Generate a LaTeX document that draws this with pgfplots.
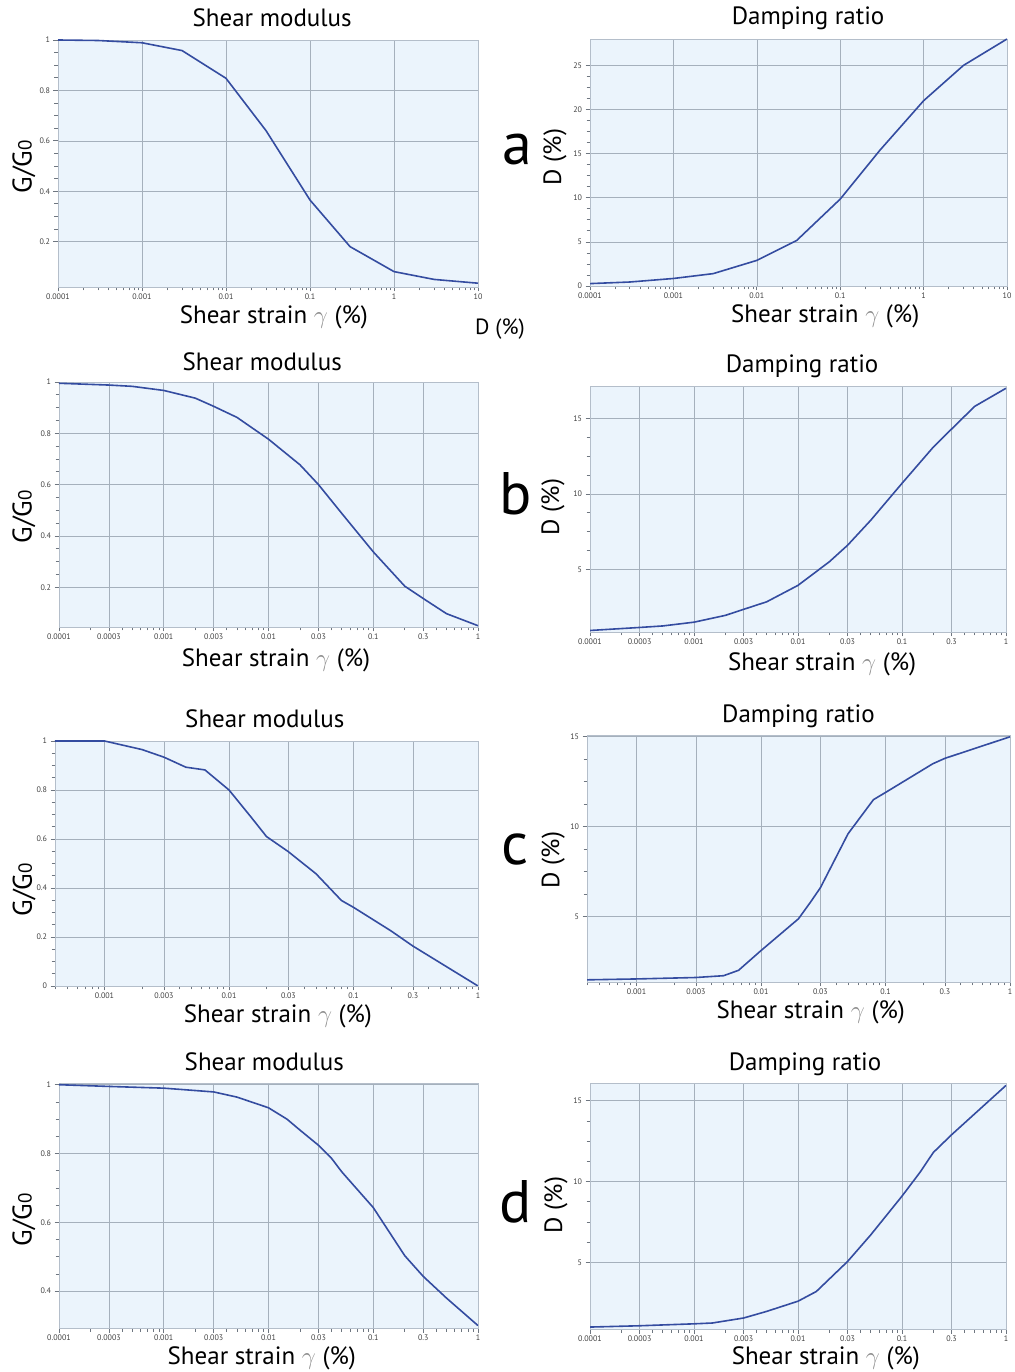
\documentclass[border=0pt]{standalone}
\usepackage{pgfplots}
\pgfplotsset{compat=1.18}
\usepackage{fontspec}
\setmainfont{PT Sans}
\pgfkeys{/pgf/number format/assume math mode=true}
\pgfkeys{/pgf/number format/fixed}
\definecolor{bg}{RGB}{235,244,252}
\definecolor{gridc}{RGB}{165,176,188}
\definecolor{framec}{RGB}{180,190,202}
\definecolor{tickc}{RGB}{110,118,128}
\definecolor{crvcol}{RGB}{52,76,160}
\pgfplotsset{
  rzpanel/.style={
    scale only axis, anchor=south west,
    axis background/.style={fill=bg},
    axis line style={framec, line width=0.8pt},
    grid=major, major grid style={gridc, line width=0.6pt},
    tick align=outside, tick pos=left,
    major tick length=4.5pt, minor tick length=3.5pt,
    every tick/.style={tickc, line width=0.7pt},
    tick label style={font=\fontsize{8}{9}\selectfont, text=black!75},
    xticklabel style={yshift=1pt},
    title style={font=\fontsize{25}{28}\selectfont, anchor=center},
    label style={font=\fontsize{25}{28}\selectfont},
    xlabel style={anchor=center},
    ylabel style={anchor=center},
    minor y tick num=3,
    xlabel={Shear strain {\color{black!45}$\gamma$} (\%)},
  },
  rzg/.style={title={Shear modulus}, ylabel={G/G{\fontsize{19}{19}\selectfont 0}},
    ylabel style={font=\fontsize{27}{28}\selectfont}},
  rzd/.style={title={Damping ratio}, ylabel={D (\%)}},
  rzdecA/.style={xmin=1e-4, xmax=10,
    xtick={1e-4,1e-3,1e-2,1e-1,1,10},
    xticklabels={0.0001,0.001,0.01,0.1,1,10},
    minor xtick={2e-4,3e-4,4e-4,5e-4,6e-4,7e-4,8e-4,9e-4,
      2e-3,3e-3,4e-3,5e-3,6e-3,7e-3,8e-3,9e-3,
      2e-2,3e-2,4e-2,5e-2,6e-2,7e-2,8e-2,9e-2,
      0.2,0.3,0.4,0.5,0.6,0.7,0.8,0.9,2,3,4,5,6,7,8,9}},
  rzdecB/.style={xmin=1e-4, xmax=1,
    xtick={1e-4,3e-4,1e-3,3e-3,1e-2,3e-2,1e-1,0.3,1},
    xticklabels={0.0001,0.0003,0.001,0.003,0.01,0.03,0.1,0.3,1},
    minor xtick={2e-4,4e-4,5e-4,6e-4,7e-4,8e-4,9e-4,
      2e-3,4e-3,5e-3,6e-3,7e-3,8e-3,9e-3,
      2e-2,4e-2,5e-2,6e-2,7e-2,8e-2,9e-2,
      0.2,0.4,0.5,0.6,0.7,0.8,0.9}},
  rzdecC/.style={xmin=4e-4, xmax=1,
    xtick={1e-3,3e-3,1e-2,3e-2,1e-1,0.3,1},
    xticklabels={0.001,0.003,0.01,0.03,0.1,0.3,1},
    minor xtick={4e-4,5e-4,6e-4,7e-4,8e-4,9e-4,
      2e-3,4e-3,5e-3,6e-3,7e-3,8e-3,9e-3,
      2e-2,4e-2,5e-2,6e-2,7e-2,8e-2,9e-2,
      0.2,0.4,0.5,0.6,0.7,0.8,0.9}},
}
\tikzset{rzcrv/.style={draw=crvcol, line width=1.6pt, line join=round}}
\begin{document}
\begin{tikzpicture}
\path (0pt,0pt) rectangle (1014pt,1372pt);

% ---------- a ----------
\begin{semilogxaxis}[rzpanel, rzg, rzdecA, at={(58pt,1085pt)}, width=420pt, height=247pt,
  ymin=0.02, ymax=1, ytick={0.2,0.4,0.6,0.8,1},
  title style={at={(axis description cs:0.51,1.065)}},
  xlabel style={at={(axis description cs:0.514,-0.122)}},
  ylabel style={at={(axis description cs:-0.081,0.486)}}]
\addplot[rzcrv, no markers] coordinates {(0.0001,1.0) (0.0003,0.998) (0.001,0.989) (0.003,0.958) (0.01,0.848) (0.03,0.64) (0.1,0.365) (0.3,0.18) (1,0.081) (3,0.05) (10,0.035)};
\end{semilogxaxis}
\begin{semilogxaxis}[rzpanel, rzd, rzdecA, at={(590pt,1086pt)}, width=417pt, height=247pt,
  ymin=0, ymax=28, ytick={0,5,10,15,20,25},
  title style={at={(axis description cs:0.523,1.061)}},
  xlabel style={at={(axis description cs:0.564,-0.122)}},
  ylabel style={at={(axis description cs:-0.084,0.522)}}]
\addplot[rzcrv, no markers] coordinates {(0.0001,0.27) (0.0003,0.45) (0.001,0.85) (0.003,1.4) (0.01,2.9) (0.03,5.15) (0.1,9.85) (0.3,15.4) (1,21.0) (3,25.0) (10,28.0)};
\end{semilogxaxis}

% ---------- b ----------
\begin{semilogxaxis}[rzpanel, rzg, rzdecB, at={(59pt,745pt)}, width=419pt, height=245pt,
  ymin=0.045, ymax=1, ytick={0.2,0.4,0.6,0.8,1},
  title style={at={(axis description cs:0.485,1.057)}},
  xlabel style={at={(axis description cs:0.518,-0.137)}},
  ylabel style={at={(axis description cs:-0.084,0.449)}}]
\addplot[rzcrv, no markers] coordinates {(0.0001,0.995) (0.0003,0.988) (0.0005,0.983) (0.001,0.967) (0.002,0.937) (0.003,0.905) (0.005,0.862) (0.01,0.777) (0.02,0.677) (0.03,0.600) (0.05,0.488) (0.1,0.338) (0.2,0.204) (0.3,0.156) (0.5,0.097) (1,0.05)};
\end{semilogxaxis}
\begin{semilogxaxis}[rzpanel, rzd, rzdecB, at={(590pt,740pt)}, width=416pt, height=246pt,
  ymin=0.85, ymax=17.15, ytick={5,10,15},
  title style={at={(axis description cs:0.51,1.057)}},
  xlabel style={at={(axis description cs:0.558,-0.13)}},
  ylabel style={at={(axis description cs:-0.089,0.508)}}]
\addplot[rzcrv, no markers] coordinates {(0.0001,0.95) (0.0003,1.15) (0.0005,1.25) (0.001,1.5) (0.002,1.95) (0.003,2.35) (0.005,2.85) (0.01,3.94) (0.02,5.5) (0.03,6.6) (0.05,8.25) (0.1,10.7) (0.2,13.1) (0.3,14.3) (0.5,15.8) (1,17.0)};
\end{semilogxaxis}

% ---------- c ----------
\begin{semilogxaxis}[rzpanel, rzg, rzdecC, at={(55pt,386pt)}, width=423pt, height=245pt,
  ymin=0, ymax=1, ytick={0,0.2,0.4,0.6,0.8,1},
  title style={at={(axis description cs:0.496,1.065)}},
  xlabel style={at={(axis description cs:0.527,-0.122)}},
  ylabel style={at={(axis description cs:-0.073,0.392)}}]
\addplot[rzcrv, no markers] coordinates {(0.0004,1.0) (0.001,1.0) (0.002,0.965) (0.003,0.934) (0.0045,0.893) (0.0064,0.882) (0.01,0.80) (0.015,0.69) (0.02,0.61) (0.03,0.548) (0.05,0.458) (0.08,0.349) (0.1,0.321) (0.2,0.225) (0.3,0.163) (1,0.0)};
\end{semilogxaxis}
\begin{semilogxaxis}[rzpanel, rzd, rzdecC, at={(587pt,390pt)}, width=423pt, height=247pt,
  ymin=1.35, ymax=15.1, ytick={5,10,15},
  title style={at={(axis description cs:0.50,1.053)}},
  xlabel style={at={(axis description cs:0.529,-0.124)}},
  ylabel style={at={(axis description cs:-0.080,0.494)}}]
\addplot[rzcrv, no markers] coordinates {(0.0004,1.47) (0.001,1.52) (0.003,1.6) (0.005,1.7) (0.0066,2.0) (0.01,3.1) (0.02,4.87) (0.025,5.8) (0.03,6.6) (0.05,9.6) (0.08,11.5) (0.1,11.9) (0.24,13.5) (0.3,13.8) (1,15.0)};
\end{semilogxaxis}

% ---------- d ----------
\begin{semilogxaxis}[rzpanel, rzg, rzdecB, at={(59pt,44pt)}, width=419pt, height=245pt,
  ymin=0.293, ymax=1.005, ytick={0.4,0.6,0.8,1},
  title style={at={(axis description cs:0.49,1.061)}},
  xlabel style={at={(axis description cs:0.484,-0.124)}},
  ylabel style={at={(axis description cs:-0.084,0.441)}}]
\addplot[rzcrv, no markers] coordinates {(0.0001,1.0) (0.0003,0.995) (0.001,0.99) (0.0015,0.986) (0.003,0.979) (0.005,0.964) (0.01,0.933) (0.015,0.90) (0.02,0.868) (0.03,0.824) (0.04,0.786) (0.05,0.747) (0.1,0.643) (0.2,0.503) (0.3,0.443) (0.5,0.38) (1,0.30)};
\end{semilogxaxis}
\begin{semilogxaxis}[rzpanel, rzd, rzdecB, at={(590pt,43pt)}, width=416pt, height=246pt,
  ymin=0.88, ymax=16.1, ytick={5,10,15},
  title style={at={(axis description cs:0.517,1.053)}},
  xlabel style={at={(axis description cs:0.567,-0.12)}},
  ylabel style={at={(axis description cs:-0.082,0.504)}}]
\addplot[rzcrv, no markers] coordinates {(0.0001,1.0) (0.0003,1.08) (0.001,1.2) (0.0015,1.25) (0.003,1.56) (0.005,1.97) (0.01,2.6) (0.015,3.2) (0.03,5.06) (0.05,6.7) (0.1,9.1) (0.15,10.6) (0.2,11.8) (0.3,12.9) (1,15.95)};
\end{semilogxaxis}

% panel letters and stray label
\node[font=\fontsize{60}{60}\selectfont, anchor=base] at (517pt,1207pt) {a};
\node[font=\fontsize{60}{60}\selectfont, anchor=base] at (516pt,857pt) {b};
\node[font=\fontsize{60}{60}\selectfont, anchor=base] at (515pt,507pt) {c};
\node[font=\fontsize{60}{60}\selectfont, anchor=base] at (516pt,149pt) {d};
\node[font=\fontsize{22}{23}\selectfont, anchor=base] at (500pt,1037pt) {D (\%)};

\pgfresetboundingbox
\useasboundingbox (0pt,0pt) rectangle (1014pt,1372pt);
\end{tikzpicture}
\end{document}
